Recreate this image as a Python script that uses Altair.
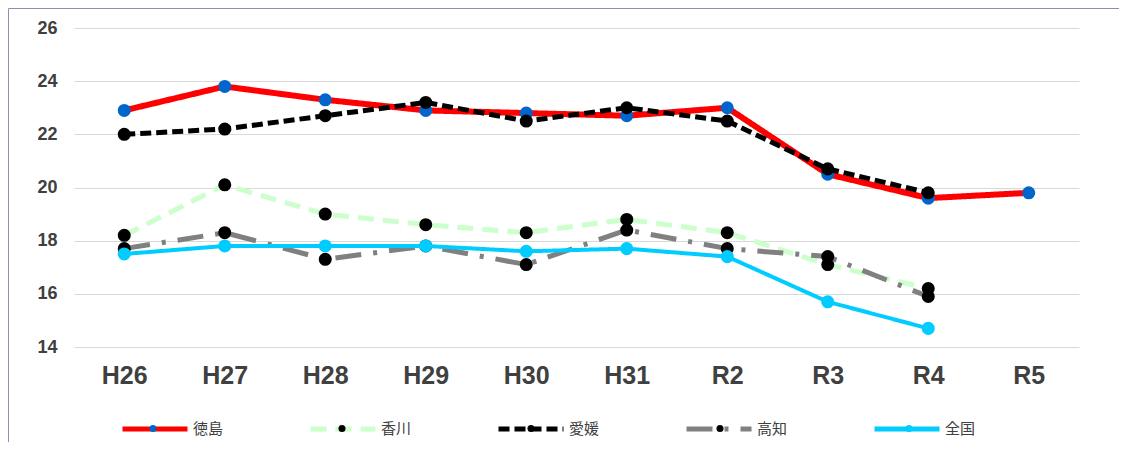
import altair as alt
import pandas as pd

years = ["H26", "H27", "H28", "H29", "H30", "H31", "R2", "R3", "R4", "R5"]
series_names = ["徳島", "香川", "愛媛", "高知", "全国"]
tokushima = [22.9, 23.8, 23.3, 22.9, 22.8, 22.7, 23.0, 20.5, 19.6, 19.8]
kagawa = [18.2, 20.1, 19.0, 18.6, 18.3, 18.8, 18.3, 17.1, 16.2, None]
ehime = [22.0, 22.2, 22.7, 23.2, 22.5, 23.0, 22.5, 20.7, 19.8, None]
kochi = [17.7, 18.3, 17.3, 17.8, 17.1, 18.4, 17.7, 17.4, 15.9, None]
zenkoku = [17.5, 17.8, 17.8, 17.8, 17.6, 17.7, 17.4, 15.7, 14.7, None]
yticks = [14, 16, 18, 20, 22, 24, 26]

series_values = [tokushima, kagawa, ehime, kochi, zenkoku]
line_colors = ["#FF0000", "#CCFFCC", "#000000", "#808080", "#00CCFF"]
marker_colors = ["#0066CC", "#000000", "#000000", "#000000", "#00CCFF"]
dashes = [[1, 0], [16, 9], [11, 5], [26, 12, 4, 12], [1, 0]]
widths = [6, 5, 5, 5, 4]
mk_names = [n + "_m" for n in series_names]

rows = []
for name, vals in zip(series_names, series_values):
    for yr, v in zip(years, vals):
        if v is not None:
            rows.append({"year": yr, "value": v, "pref": name, "mk": name + "_m"})
df = pd.DataFrame(rows)

W, H = 1005, 319

x = alt.X("year:N", sort=years,
          scale=alt.Scale(domain=years, padding=0.5),
          axis=alt.Axis(title=None, labelAngle=0, labelFont="Liberation Sans",
                        labelFontWeight="bold", labelFontSize=25, labelColor="#404040",
                        labelPadding=16, domain=False, ticks=False, grid=False))
y = alt.Y("value:Q",
          scale=alt.Scale(domain=[14, 26], nice=False, zero=False),
          axis=alt.Axis(title=None, values=yticks, labelFont="Liberation Sans",
                        labelFontWeight="bold", labelFontSize=18, labelColor="#404040",
                        labelPadding=17, domain=False, ticks=False, grid=True,
                        gridColor="#D9D9D9", gridWidth=1))

line_legend = alt.Legend(orient="none", legendX=46, legendY=366, direction="horizontal",
                         title=None, symbolType="stroke", symbolSize=4225,
                         symbolStrokeWidth=5, labelFont="Noto Sans CJK JP",
                         labelFontSize=15, labelColor="#404040", labelOffset=3,
                         columnPadding=76, zindex=1)
stroke = alt.Stroke("pref:N", scale=alt.Scale(domain=series_names, range=line_colors),
                    legend=line_legend)
dash = alt.StrokeDash("pref:N", scale=alt.Scale(domain=series_names, range=dashes),
                      legend=line_legend)
pt_legend = alt.Legend(orient="none", legendX=74, legendY=395.5, direction="horizontal",
                       title=None, symbolType="circle", symbolSize=50,
                       symbolStrokeWidth=0, labelExpr="''", labelOffset=0,
                       columnPadding=179, zindex=2)
fill = alt.Fill("mk:N", scale=alt.Scale(domain=mk_names, range=marker_colors),
                legend=pt_legend)

base = alt.Chart(df)
layers = []
for i, name in enumerate(series_names):
    sub = base.transform_filter(alt.datum.pref == name)
    layers.append(sub.mark_line(strokeWidth=widths[i], strokeCap="butt",
                                strokeJoin="round").encode(x=x, y=y, stroke=stroke,
                                                            strokeDash=dash))
    layers.append(sub.mark_circle(size=170, opacity=1).encode(x=x, y=y, fill=fill))

frame = alt.Chart(pd.DataFrame({"a": [0]}))
left_border = frame.mark_rule(color="#8E8EB4", strokeWidth=1).encode(
    x=alt.value(-65.5), y=alt.value(-19.5), y2=alt.value(440))
top_border = frame.mark_rule(color="#8E8EB4", strokeWidth=1).encode(
    x=alt.value(-65.5), x2=alt.value(1080), y=alt.value(-19.5))

chart = alt.layer(*layers, left_border, top_border).properties(
    width=W, height=H,
    autosize=alt.AutoSizeParams(type="none"),
    padding={"left": 66, "top": 20, "right": 40, "bottom": 95},
).configure(background="white").configure_view(stroke=None)

chart.save("out.html", embed_options={"renderer": "svg", "actions": False})
